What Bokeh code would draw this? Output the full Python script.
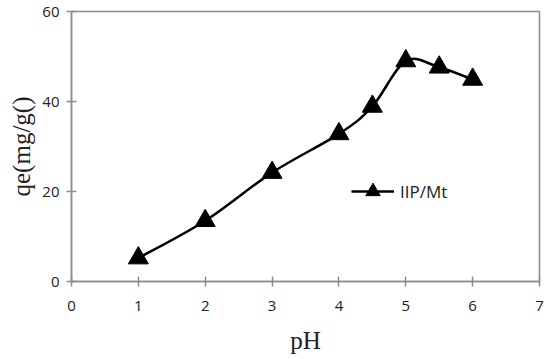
from bokeh.plotting import figure
from bokeh.models import Range1d, FixedTicker, Legend, LegendItem
from bokeh.embed import file_html
from bokeh.resources import INLINE
import numpy as np

ph = [1, 2, 3, 4, 4.5, 5, 5.5, 6]
qe = [5.2, 13.5, 24.2, 32.8, 38.9, 49.0, 47.6, 44.9]
x_ticks = [0, 1, 2, 3, 4, 5, 6, 7]
y_ticks = [0, 20, 40, 60]
series_name = "IIP/Mt"

GRAY = "#8c8c8c"

p = figure(frame_width=468, frame_height=270, output_backend="svg", toolbar_location=None,
           x_range=Range1d(0, 7), y_range=Range1d(0, 60),
           min_border_left=71, min_border_right=8, min_border_top=11, min_border_bottom=10)

# smooth line (Catmull-Rom -> cubic Bezier) from the data points
xs = np.array(ph, dtype=float)
ys = np.array(qe, dtype=float)
n = len(xs)
x0, y0, x1, y1, cx0, cy0, cx1, cy1 = [], [], [], [], [], [], [], []
for i in range(n - 1):
    ip = max(i - 1, 0)
    inx = min(i + 2, n - 1)
    x0.append(xs[i]); y0.append(ys[i]); x1.append(xs[i + 1]); y1.append(ys[i + 1])
    cx0.append(xs[i] + (xs[i + 1] - xs[ip]) / 6.0)
    cy0.append(ys[i] + (ys[i + 1] - ys[ip]) / 6.0)
    cx1.append(xs[i + 1] - (xs[inx] - xs[i]) / 6.0)
    cy1.append(ys[i + 1] - (ys[inx] - ys[i]) / 6.0)
p.bezier(x0=x0, y0=y0, x1=x1, y1=y1, cx0=cx0, cy0=cy0, cx1=cx1, cy1=cy1,
         line_color="black", line_width=2.5)
pts = p.scatter(ph, qe, marker="triangle", size=20, fill_color="black", line_color="black")

# legend proxy
lg_line = p.line([np.nan], [np.nan], line_color="black", line_width=2.5)
lg_pt = p.scatter([np.nan], [np.nan], marker="triangle", size=16, fill_color="black", line_color="black")
legend = Legend(items=[LegendItem(label=series_name, renderers=[lg_line, lg_pt])],
                location=(280, 72), border_line_color=None, background_fill_alpha=0,
                padding=0, margin=0, glyph_width=43, glyph_height=36, label_height=20,
                label_standoff=6, label_text_font="Open Sans", label_text_font_size="17px",
                label_text_color="#222222")
p.add_layout(legend, "center")

p.xgrid.visible = False
p.ygrid.visible = False
p.outline_line_color = GRAY
p.outline_line_width = 1.5

for ax in (p.xaxis[0], p.yaxis[0]):
    ax.axis_line_color = GRAY
    ax.axis_line_width = 1.5
    ax.major_tick_line_color = GRAY
    ax.major_tick_line_width = 1.5
    ax.major_tick_in = 5
    ax.major_tick_out = 5
    ax.minor_tick_line_color = None
    ax.major_label_text_font = "Open Sans"
    ax.major_label_text_font_size = "15px"
    ax.major_label_text_color = "#222222"
    ax.axis_label_text_font = "Liberation Serif"
    ax.axis_label_text_font_style = "normal"
    ax.axis_label_text_font_size = "25px"
    ax.axis_label_text_color = "#222222"

p.xaxis[0].ticker = FixedTicker(ticks=x_ticks)
p.yaxis[0].ticker = FixedTicker(ticks=y_ticks)
p.xaxis[0].axis_label = "pH"
p.yaxis[0].axis_label = "qe(mg/g()"
p.xaxis[0].major_label_standoff = 14
p.yaxis[0].major_label_standoff = 7
p.xaxis[0].axis_label_standoff = 13
p.yaxis[0].axis_label_standoff = 4

open("out.html", "w").write(file_html(p, INLINE))
